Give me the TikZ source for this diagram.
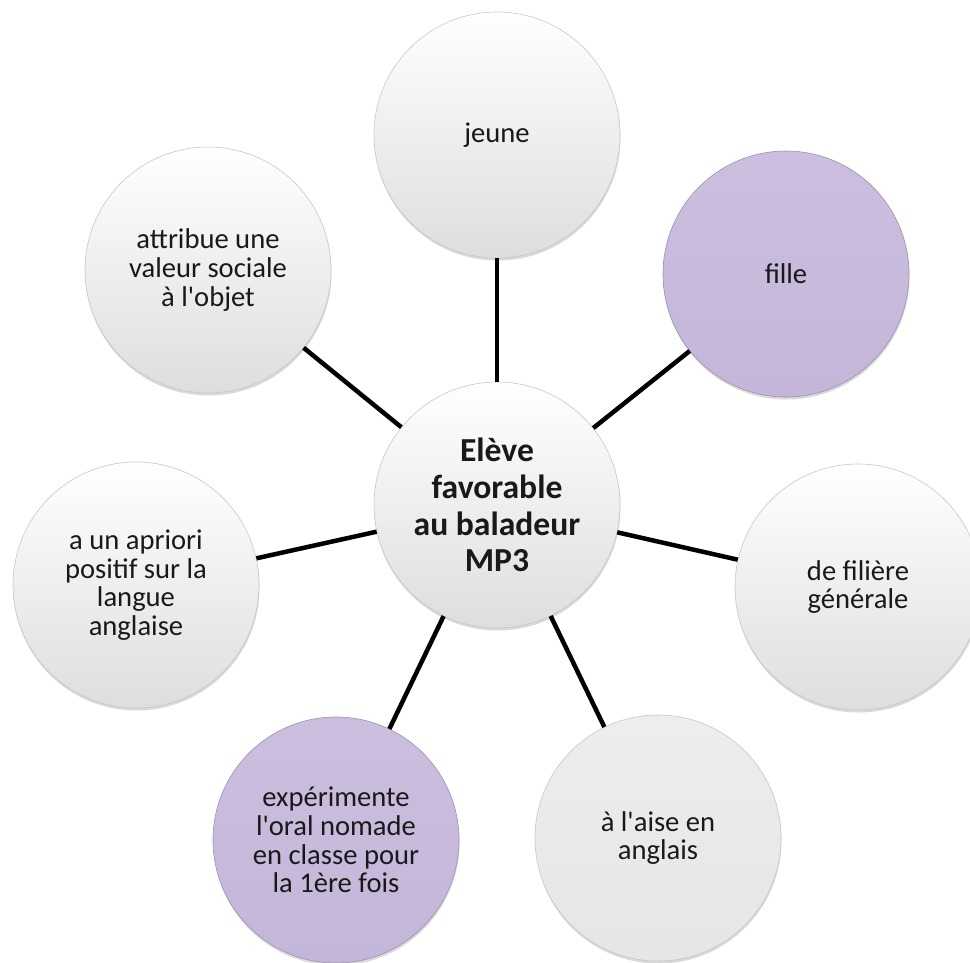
\documentclass[tikz,border=0pt]{standalone}
\usepackage{fontspec}
\setmainfont{Carlito}
\usetikzlibrary{shadows,calc}
\newcommand{\apos}{\textquotesingle}
\definecolor{purp}{RGB}{203,190,223}
\definecolor{purpdark}{RGB}{196,182,216}
\tikzset{
  bubble/.style={circle, minimum size=246pt, inner sep=0pt, align=center,
    draw=black!22, line width=0.6pt,
    top color=white, bottom color=black!13,
    drop shadow={shadow xshift=0.5pt, shadow yshift=-2.5pt, opacity=0.25, fill=black!60},
    text=black!90, font=\fontsize{28.6}{28.7}\selectfont},
  purpbubble/.style={bubble, top color=purp, bottom color=purpdark, draw=purpdark!80!black},
  hub/.style={bubble, font=\fontsize{33.6}{36.7}\selectfont\bfseries},
  link/.style={line width=4.5pt, black}
}
\begin{document}
\begin{tikzpicture}[x=1pt,y=-1pt]
\useasboundingbox (0,0) rectangle (970,962);
\clip (0,0) rectangle (970,962);
\coordinate (c) at (497,505);
\node[hub] (hubn) at (c) {Elève\\favorable\\au baladeur\\MP3};
\node[bubble] (jeune) at ($(c)+(0,-370)$) {jeune};
\node[purpbubble] (fille) at ($(c)+(289,-231)$) {fille};
\node[bubble] (filiere) at ($(c)+(361,82)$) {de filière\\générale};
\node[bubble, top color=black!7, bottom color=black!10] (aise) at ($(c)+(161,333)$) {à l\apos aise en\\anglais};
\node[purpbubble] (exp) at ($(c)+(-161,335)$) {expérimente\\l\apos oral nomade\\en classe pour\\la 1ère fois};
\node[bubble] (apriori) at ($(c)+(-361,80)$) {a un apriori\\positif sur la\\langue\\anglaise};
\node[bubble] (attr) at ($(c)+(-289,-235)$) {attribue une\\valeur sociale\\à l\apos objet};
\foreach \n in {jeune,fille,filiere,aise,exp,apriori,attr}
  \draw[link] (hubn) -- (\n);
\end{tikzpicture}
\end{document}
